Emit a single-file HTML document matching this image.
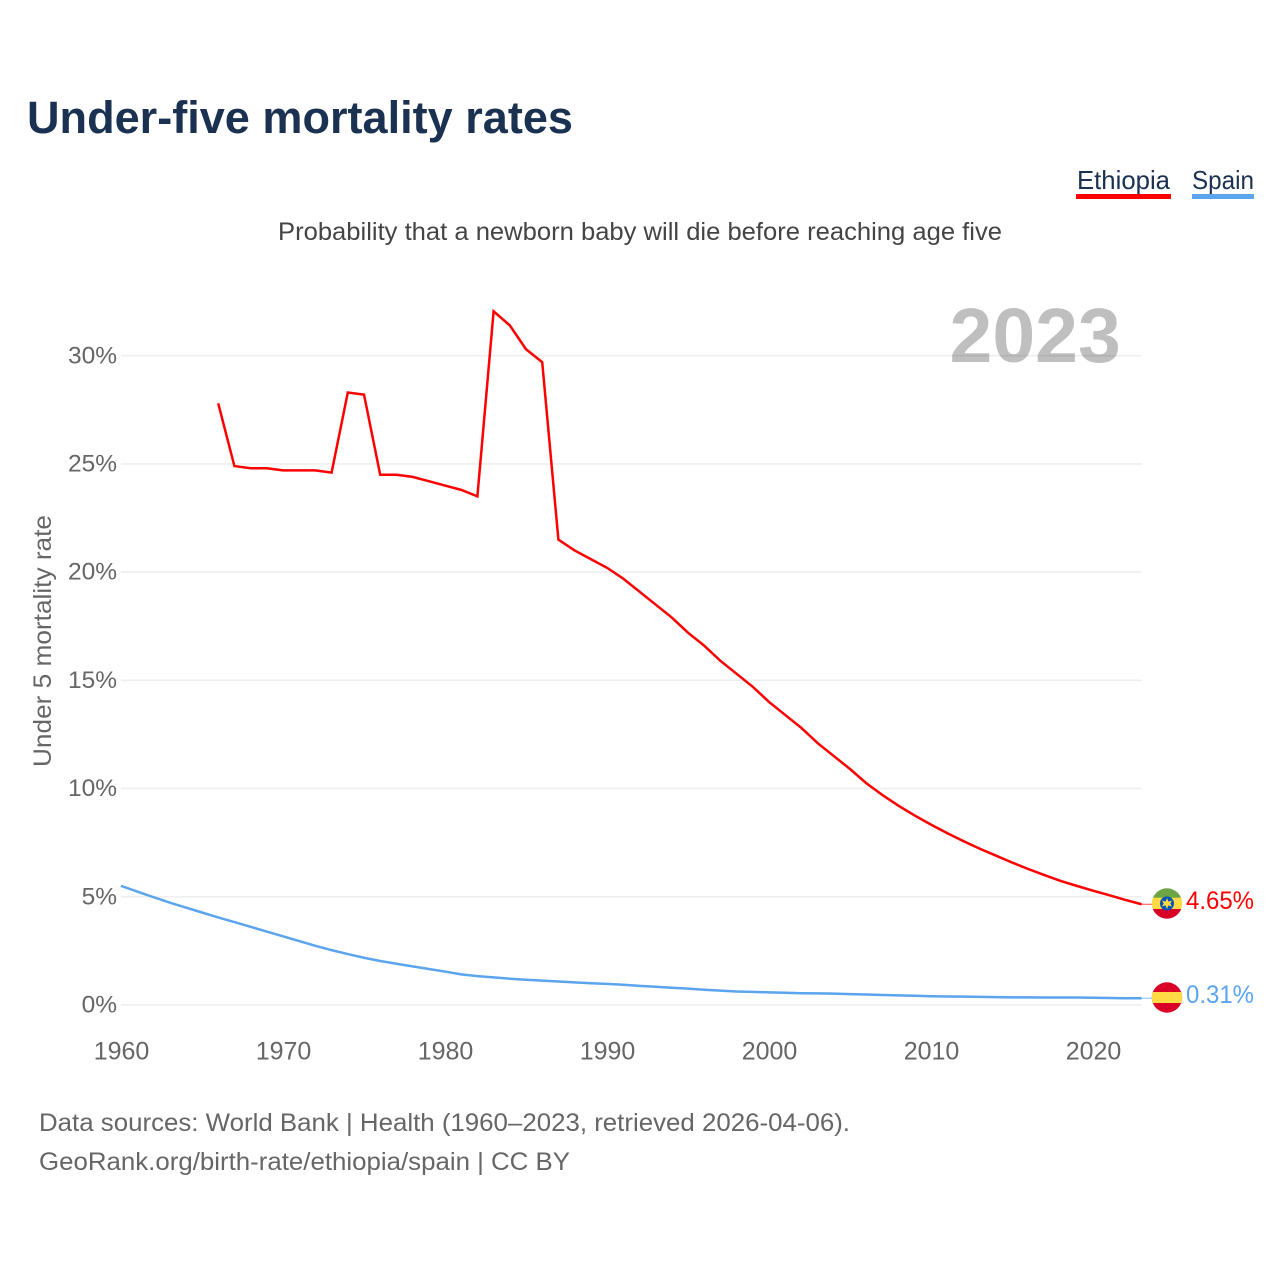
<!DOCTYPE html>
<html>
<head>
<meta charset="utf-8">
<style>
html,body{margin:0;padding:0;background:#fff;width:1280px;height:1280px;overflow:hidden}
svg{display:block;font-family:"Liberation Sans",sans-serif}
</style>
</head>
<body>
<svg id="chart" width="1280" height="1280" viewBox="0 0 1280 1280" xmlns="http://www.w3.org/2000/svg">
  <rect width="1280" height="1280" fill="#fff"/>
  <text x="27" y="133" font-size="45" font-weight="700" fill="#1a3152" textLength="546" lengthAdjust="spacingAndGlyphs">Under-five mortality rates</text>
  <g>
    <text x="1077" y="189" font-size="26" fill="#1a3152" textLength="93" lengthAdjust="spacingAndGlyphs">Ethiopia</text>
    <rect x="1076" y="194" width="95" height="5" fill="#ff0000"/>
  </g>
  <g>
    <text x="1192" y="189" font-size="26" fill="#1a3152" textLength="62" lengthAdjust="spacingAndGlyphs">Spain</text>
    <rect x="1192" y="194" width="62" height="5" fill="#5ba4ee"/>
  </g>
  <text x="278" y="240" font-size="25" fill="#444" textLength="724" lengthAdjust="spacingAndGlyphs">Probability that a newborn baby will die before reaching age five</text>
  <text transform="translate(51,767) rotate(-90)" font-size="25" fill="#666" textLength="252" lengthAdjust="spacingAndGlyphs">Under 5 mortality rate</text>
  <g id="grid"></g>
  <g id="yticks"></g>
  <g id="xticks"></g>
  <text id="year" x="949.5" y="362" font-size="77" font-weight="700" fill="#000" fill-opacity="0.25">2023</text>
  <g id="series"></g>

  <g>
    <clipPath id="clipEt"><circle cx="1167" cy="903.5" r="15.2"/></clipPath>
    <g clip-path="url(#clipEt)">
      <rect x="1151" y="887" width="32" height="11" fill="#6da544"/>
      <rect x="1151" y="897.7" width="32" height="11.5" fill="#ffda44"/>
      <rect x="1151" y="909" width="32" height="11" fill="#d80027"/>
    </g>
    <circle cx="1167" cy="903.5" r="7" fill="#0052b4"/>
    <polygon points="1167,898 1168.4,901.6 1172,900.5 1170.3,903.5 1172,906.5 1168.4,905.4 1167,909 1165.6,905.4 1162,906.5 1163.7,903.5 1162,900.5 1165.6,901.6" fill="#ffda44"/>
  </g>
  <g>
    <clipPath id="clipEs"><circle cx="1167" cy="997.5" r="15.2"/></clipPath>
    <g clip-path="url(#clipEs)">
      <rect x="1151" y="981" width="32" height="33" fill="#d80027"/>
      <rect x="1151" y="992" width="32" height="11" fill="#ffda44"/>
    </g>
  </g>
  <text x="1186" y="909" font-size="25" fill="#ff0000" textLength="68" lengthAdjust="spacingAndGlyphs">4.65%</text>
  <text x="1186" y="1003" font-size="25" fill="#5ba4ee" textLength="68" lengthAdjust="spacingAndGlyphs">0.31%</text>

  <text x="39" y="1131" font-size="25" fill="#666" textLength="811" lengthAdjust="spacingAndGlyphs">Data sources: World Bank | Health (1960–2023, retrieved 2026-04-06).</text>
  <text x="39" y="1170" font-size="25" fill="#666" textLength="531" lengthAdjust="spacingAndGlyphs">GeoRank.org/birth-rate/ethiopia/spain | CC BY</text>
</svg>
<script>
const yTicks = [0, 5, 10, 15, 20, 25, 30];
const xTicks = [1960, 1970, 1980, 1990, 2000, 2010, 2020];
const ethiopiaStart = 1966;
const ethiopiaValues = [27.8,24.9,24.8,24.8,24.7,24.7,24.7,24.6,28.3,28.2,24.5,24.5,24.4,24.2,24.0,23.8,23.5,32.05,31.4,30.3,29.7,21.5,21.0,20.6,20.2,19.7,19.1,18.5,17.9,17.2,16.6,15.9,15.3,14.7,14.0,13.4,12.8,12.1,11.5,10.9,10.25,9.7,9.2,8.75,8.33,7.94,7.57,7.22,6.9,6.58,6.28,6.0,5.73,5.5,5.28,5.07,4.85,4.65];
const spainStart = 1960;
const spainValues = [5.5,5.24,4.98,4.73,4.5,4.27,4.04,3.83,3.61,3.39,3.17,2.95,2.73,2.53,2.35,2.18,2.03,1.9,1.78,1.66,1.54,1.41,1.33,1.27,1.21,1.16,1.12,1.08,1.04,1.0,0.97,0.93,0.88,0.84,0.79,0.75,0.7,0.66,0.62,0.6,0.58,0.56,0.54,0.53,0.52,0.5,0.48,0.46,0.44,0.42,0.4,0.39,0.38,0.37,0.36,0.35,0.35,0.34,0.34,0.34,0.33,0.32,0.31,0.31];

const NS = 'http://www.w3.org/2000/svg';
const xScale = year => 121 + (year - 1960) * 16.2;
const yScale = value => 1004.9 - value * 21.64;
const plotRight = xScale(2023);

function make(tag, attrs, parent, text) {
  const el = document.createElementNS(NS, tag);
  for (const k in attrs) el.setAttribute(k, attrs[k]);
  if (text !== undefined) el.textContent = text;
  parent.appendChild(el);
  return el;
}

const grid = document.getElementById('grid');
const yG = document.getElementById('yticks');
const xG = document.getElementById('xticks');
const seriesG = document.getElementById('series');

yTicks.forEach(t => {
  const line = make('line', {x1: xScale(1960), x2: plotRight, y1: yScale(t), y2: yScale(t), stroke: '#eeeeee', 'stroke-width': 1.6}, grid);
  
  
  const label = make('text', {x: 117, y: yScale(t) + 7.6, 'text-anchor': 'end', 'font-size': 24.5, fill: '#666'}, yG, t + '%');
  
  
});

xTicks.forEach(t => {
  const label = make('text', {x: xScale(t) + 0.5, y: 1059.5, 'text-anchor': 'middle', 'font-size': 25, fill: '#666'}, xG, String(t));
  
  
});

function drawSeries(values, start, color, name) {
  const pts = values.map((v, i) => xScale(start + i).toFixed(2) + ',' + yScale(v).toFixed(2));
  const line = make('polyline', {points: pts.join(' '), fill: 'none', stroke: color, 'stroke-width': 2.5, 'stroke-linejoin': 'miter'}, seriesG);
  
  
  const last = values[values.length - 1];
  const conn = make('line', {x1: plotRight, x2: 1152, y1: yScale(last), y2: yScale(last), stroke: color, 'stroke-width': 1, opacity: 0.7}, seriesG);
  
  
}

drawSeries(spainValues, spainStart, '#5ba4ee', 'line-spain');
drawSeries(ethiopiaValues, ethiopiaStart, '#ff0000', 'line-ethiopia');
</script>
</body>
</html>
